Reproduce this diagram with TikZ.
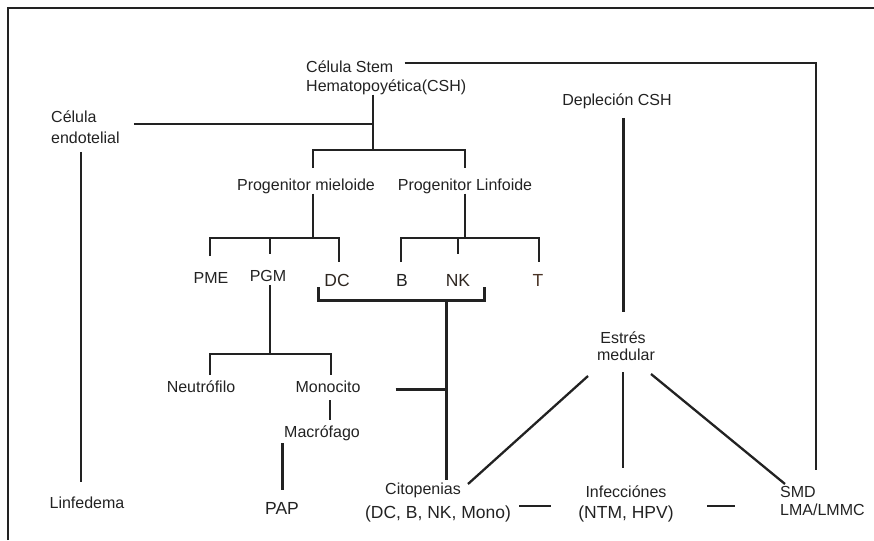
\documentclass[tikz,border=0pt]{standalone}
\usepackage{fontspec}
\setmainfont{Liberation Sans}
\definecolor{ink}{HTML}{222222}
\definecolor{tbrown}{HTML}{4A3426}
\definecolor{dbrown}{HTML}{2E2620}
\begin{document}
\begin{tikzpicture}[x=1pt,y=-1pt,
  lbl/.style={inner sep=0pt,text=ink,font=\fontsize{16}{19}\selectfont},
  big/.style={inner sep=0pt,text=ink,font=\fontsize{17.5}{20}\selectfont},
  thin/.style={draw=ink,line width=1.6pt},
  mid/.style={draw=ink,line width=2.3pt},
  thick/.style={draw=ink,line width=3pt}]
\useasboundingbox (0,0) rectangle (874,540);
% frame
\draw[draw=ink,line width=2pt] (8,540) -- (8,8) -- (874,8);
% nodes
\node[lbl,anchor=west] (csh1) at (306,67) {Célula Stem};
\node[lbl,anchor=west] (csh2) at (306,87) {Hematopoyética(CSH)};
\node[lbl,anchor=west,align=left,font=\fontsize{16}{21}\selectfont] (cel) at (51,127) {Célula\\endotelial};
\node[lbl] (linf) at (87,503) {Linfedema};
\node[lbl] (depl) at (617,101) {Depleción CSH};
\node[lbl] (pm) at (306,186) {Progenitor mieloide};
\node[lbl] (pl) at (465,186) {Progenitor Linfoide};
\node[lbl] (pme) at (211,278) {PME};
\node[lbl] (pgm) at (268,276) {PGM};
\node[big,text=dbrown] (dc) at (337,280) {DC};
\node[big] (b) at (402,280) {B};
\node[big,text=dbrown] (nk) at (458,280) {NK};
\node[big,text=tbrown] (t) at (538,280) {T};
\node[lbl] (neu) at (201,387) {Neutrófilo};
\node[lbl] (mono) at (328,387) {Monocito};
\node[lbl] (macro) at (322,433) {Macrófago};
\node[big] (pap) at (282,508) {PAP};
\node[lbl,align=center,font=\fontsize{16}{17}\selectfont] (est) at (623,346) {Estrés\\\hspace*{6pt}medular};
\node[lbl] (cito) at (423,490) {Citopenias};
\node[big] (citob) at (438,514) {(DC, B, NK, Mono)};
\node[lbl] (inf) at (626,492) {Infecciónes};
\node[big] (infb) at (626,514) {(NTM, HPV)};
\node[lbl,anchor=west,align=left,font=\fontsize{16}{18}\selectfont] (smd) at (780,501) {SMD\\LMA/LMMC};
% helper coordinates
\coordinate (j1) at (373,150);
\coordinate (jcel) at (373,124);
\coordinate (smdtop) at (816,470);
\coordinate (jpm) at (313,238);
\coordinate (jpl) at (465,238);
\coordinate (jbr) at (446,300);
\coordinate (jmono) at (446,389);
\coordinate (jpgm) at (270,354);
% connectors
\draw[thin] ([xshift=11pt,yshift=4pt]csh1.east) -- ([yshift=4pt]csh1.east -| smdtop) -- (smdtop);
\draw[mid] (csh2.south -| j1) -- (j1);
\draw[mid] ([xshift=14pt]cel.east |- jcel) -- (jcel);
\draw[mid] (81,152) -- (81,482);
\draw[thin] (313,168) -- (313,150) -- (465,150) -- (465,168);
\draw[mid] ([xshift=7pt]pm.south) -- (jpm);
\draw[thin] (210,256) -- (210,238) -- (339,238) -- (339,262);
\draw[thin] (270,238) -- (270,254);
\draw[mid] (pl.south) -- (jpl);
\draw[thin] (401,262) -- (401,238) -- (539,238) -- (539,262);
\draw[thin] (458,238) -- (458,254);
\draw[thick] (318,287) -- (318,300) -- (484,300) -- (484,287);
\draw[thick] (jbr) -- (446,480);
\draw[mid] ([xshift=2pt,yshift=-3pt]pgm.south) -- (jpgm);
\draw[thin] (210,375) -- (210,354) -- (331,354) -- (331,375);
\draw[thick] ([xshift=35pt]mono.east |- jmono) -- (jmono);
\draw[thin] (330,400) -- (330,420);
\draw[thick] (282,443) -- (282,490);
\draw[thick] (623,118) -- (623,312);
\draw[mid] (588,376) -- (468,484);
\draw[mid] (623,372) -- (623,468);
\draw[mid] (651,374) -- (785,484);
\draw[thin] (519,506) -- (551,506);
\draw[thin] (707,506) -- (735,506);
\end{tikzpicture}
\end{document}
